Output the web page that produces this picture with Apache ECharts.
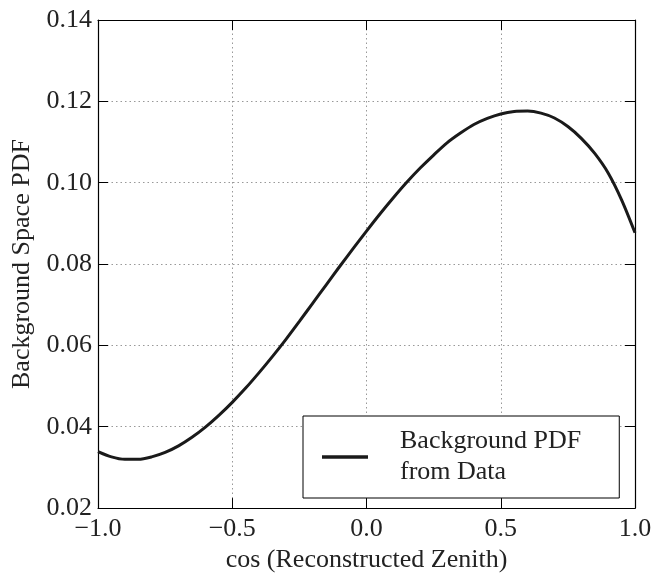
<!DOCTYPE html>
<html>
<head>
<meta charset="utf-8">
<script src="https://cdn.jsdelivr.net/npm/echarts@6/dist/echarts.min.js"></script>
<style>html,body{margin:0;padding:0;background:#fff}#c{width:667px;height:578px}</style>
</head>
<body>
<div id="c"></div>
<script>
var xValues = [-1.00,-0.95,-0.90,-0.85,-0.80,-0.75,-0.70,-0.65,-0.60,-0.55,-0.50,-0.45,-0.40,-0.35,-0.30,-0.25,-0.20,-0.15,-0.10,-0.05,0.00,0.05,0.10,0.15,0.20,0.25,0.30,0.35,0.40,0.45,0.50,0.55,0.60,0.65,0.70,0.75,0.80,0.85,0.90,0.95,1.00];
var pdfValues = [0.0339,0.0326,0.0320,0.0320,0.0326,0.0337,0.0353,0.0374,0.0399,0.0428,0.0460,0.0495,0.0533,0.0573,0.0615,0.0659,0.0704,0.0749,0.0794,0.0838,0.0881,0.0923,0.0963,0.1001,0.1036,0.1068,0.1098,0.1122,0.1143,0.1158,0.1169,0.1175,0.1176,0.1171,0.1159,0.1138,0.1109,0.1072,0.1024,0.0958,0.0877];
var seriesName = 'Background PDF\nfrom Data';
var xTitle = 'cos (Reconstructed Zenith)';
var yTitle = 'Background Space PDF';

var data = xValues.map(function(x, i){ return [x, pdfValues[i]]; });
var font = 'Liberation Serif';
var minus = function(s){ return s.replace('-', '\u2212'); };

var chart = echarts.init(document.getElementById('c'), null, {renderer:'canvas'});
var tickStyle = {show:true, inside:true, length:10, lineStyle:{color:'#000', width:1}};
var axisLine = {show:true, onZero:false, lineStyle:{color:'#000', width:1.2}};
var labelStyle = {fontFamily:font, fontSize:26, color:'#222'};
chart.setOption({
  animation:false,
  backgroundColor:'#fff',
  textStyle:{fontFamily:font},
  grid:{left:98, right:32, top:20, bottom:55, containLabel:false},
  legend:{
    left:303, top:416, orient:'vertical',
    padding:[10, 38, 10, 19],
    borderColor:'#000', borderWidth:1, borderRadius:0,
    backgroundColor:'#fff',
    icon:'rect', itemWidth:46, itemHeight:3.5,
    textStyle:{fontFamily:font, fontSize:26, color:'#222', lineHeight:31, padding:[0,0,0,27]},
    data:[seriesName]
  },
  xAxis:[{
    type:'value', min:-1, max:1, interval:0.5, position:'bottom',
    name:xTitle, nameLocation:'middle', nameGap:38,
    nameTextStyle:labelStyle,
    axisLine:axisLine, axisTick:tickStyle,
    axisLabel:{fontFamily:font, fontSize:26, color:'#222', margin:8, formatter:function(v){return minus(v.toFixed(1));}},
    splitLine:{show:true, lineStyle:{color:'#999', type:[1.5,3], width:1}}
  },{
    type:'value', min:-1, max:1, interval:0.5, position:'top',
    axisLine:axisLine, axisTick:tickStyle, axisLabel:{show:false}, splitLine:{show:false}
  }],
  yAxis:[{
    type:'value', min:0.02, max:0.14, interval:0.02, position:'left',
    name:yTitle, nameLocation:'middle', nameGap:56,
    nameTextStyle:labelStyle,
    axisLine:axisLine, axisTick:tickStyle,
    axisLabel:{fontFamily:font, fontSize:26, color:'#222', margin:6, formatter:function(v){return v.toFixed(2);}},
    splitLine:{show:true, lineStyle:{color:'#999', type:[1.5,3], width:1}}
  },{
    type:'value', min:0.02, max:0.14, interval:0.02, position:'right',
    axisLine:axisLine, axisTick:tickStyle, axisLabel:{show:false}, splitLine:{show:false}
  }],
  series:[{
    name:seriesName, type:'line', data:data, smooth:0.3, showSymbol:false, symbol:'none',
    lineStyle:{color:'#1a1a1a', width:3}, itemStyle:{color:'#1a1a1a'}
  }]
});
</script>
</body>
</html>
